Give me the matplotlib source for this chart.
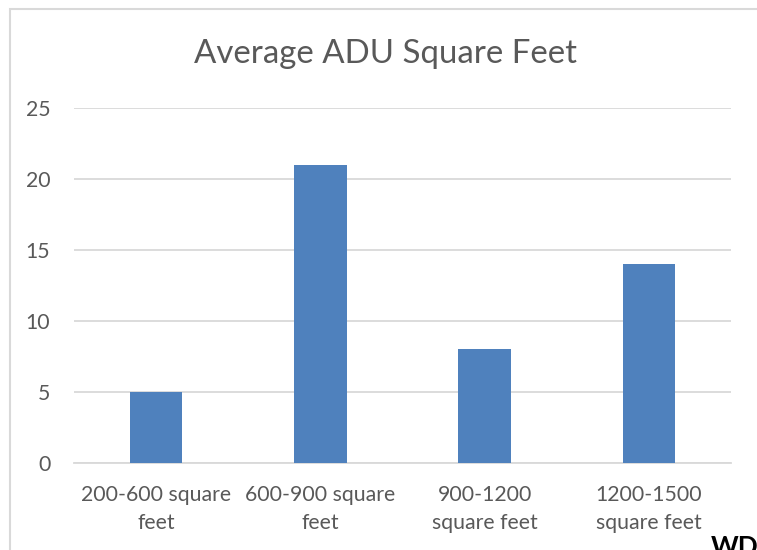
import matplotlib.pyplot as plt
from matplotlib.patches import Rectangle

categories = ['200-600 square\nfeet', '600-900 square\nfeet', '900-1200\nsquare feet', '1200-1500\nsquare feet']
counts = [5, 21, 8, 14]
yticks = [0, 5, 10, 15, 20, 25]

plt.rcParams['font.family'] = ['Lato', 'DejaVu Sans']

W, H = 757, 550
fig = plt.figure(figsize=(W / 100, H / 100), dpi=100)
ax = fig.add_axes([74 / W, 1 - 463 / H, (731 - 74) / W, (463 - 108) / H])

x = range(len(categories))
ax.bar(x, counts, width=0.32, color='#4F81BD', zorder=3)
ax.set_xlim(-0.5, len(categories) - 0.5)
ax.set_ylim(0, 25)
ax.set_yticks(yticks)
ax.set_xticks(list(x))
ax.set_xticklabels(categories, linespacing=1.5)
ax.grid(axis='y', color='#D9D9D9', linewidth=1.3, zorder=0)
for s in ['top', 'right', 'left']:
    ax.spines[s].set_visible(False)
ax.spines['bottom'].set_color('#D9D9D9')
ax.spines['bottom'].set_linewidth(1.3)
ax.tick_params(axis='both', length=0, labelsize=15.3, colors='#595959')
ax.tick_params(axis='x', pad=16)
ax.tick_params(axis='y', pad=17)

fig.text(385 / W, 1 - 54 / H, 'Average ADU Square Feet', ha='center', va='center',
         fontsize=23.8, color='#595959')

# chart frame
fig.patches.append(Rectangle((10 / W, -0.1), 1.2, 1 - 9 / H + 0.1, transform=fig.transFigure,
                             fill=False, edgecolor='#D9D9D9', linewidth=1.5))

fig.text(711 / W, 1 - 535 / H, 'WD', va='top', ha='left', fontsize=19,
         fontweight='bold', color='black')

fig.savefig('out.png', dpi=100)
